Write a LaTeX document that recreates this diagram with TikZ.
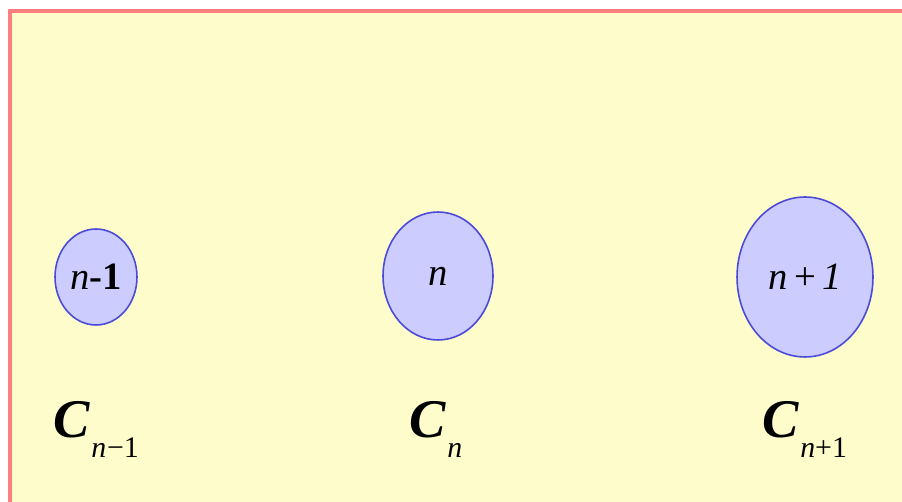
\documentclass[tikz,border=0pt]{standalone}
\usepackage{fontspec}
\setmainfont{Liberation Serif}
\usetikzlibrary{shapes.geometric}
\definecolor{cyellow}{HTML}{FFFCCC}
\definecolor{cframe}{HTML}{FF7F7F}
\definecolor{cshell}{HTML}{CCCCFF}
\definecolor{cedge}{HTML}{4A4AD8}
\tikzset{
  every picture/.style={line width=1pt},
  shell/.style={ellipse, draw=cedge, fill=cshell, line width=0.9pt, inner sep=0pt,
    font=\fontsize{22}{22}\selectfont},
  cname/.style={anchor=base west, inner sep=0pt, font=\fontsize{31}{31}\selectfont\bfseries\itshape},
}
\newcommand{\sub}[1]{\kern0.02em\raisebox{-0.36em}{\fontsize{17}{17}\selectfont\mdseries\upshape #1}}

\begin{document}
\begin{tikzpicture}[x=0.02cm, y=-0.02cm]
  \useasboundingbox (0,0) rectangle (902,502);
  \fill[cyellow] (10,11) rectangle (902,502);
  \draw[cframe, line width=1.8pt] (10,502) -- (10,11) -- (902,11);
  \node[shell, minimum width=1.64cm, minimum height=1.92cm] (s1) at (96,277)  {\textit{n}\textbf{-1}};
  \node[shell, minimum width=2.2cm,  minimum height=2.56cm] (s2) at (438,276) {\textit{n}};
  \node[shell, minimum width=2.72cm, minimum height=3.2cm]  (s3) at (805,277) {\textit{n}\,+\,\textit{1}};
  \node[cname] (c1) at (53,438)  {C\sub{\textit{n}\kern0.03em−1}};
  \node[cname] (c2) at (409,438) {C\sub{\textit{n}}};
  \node[cname] (c3) at (762,438) {C\sub{\textit{n}+1}};
\end{tikzpicture}
\end{document}
